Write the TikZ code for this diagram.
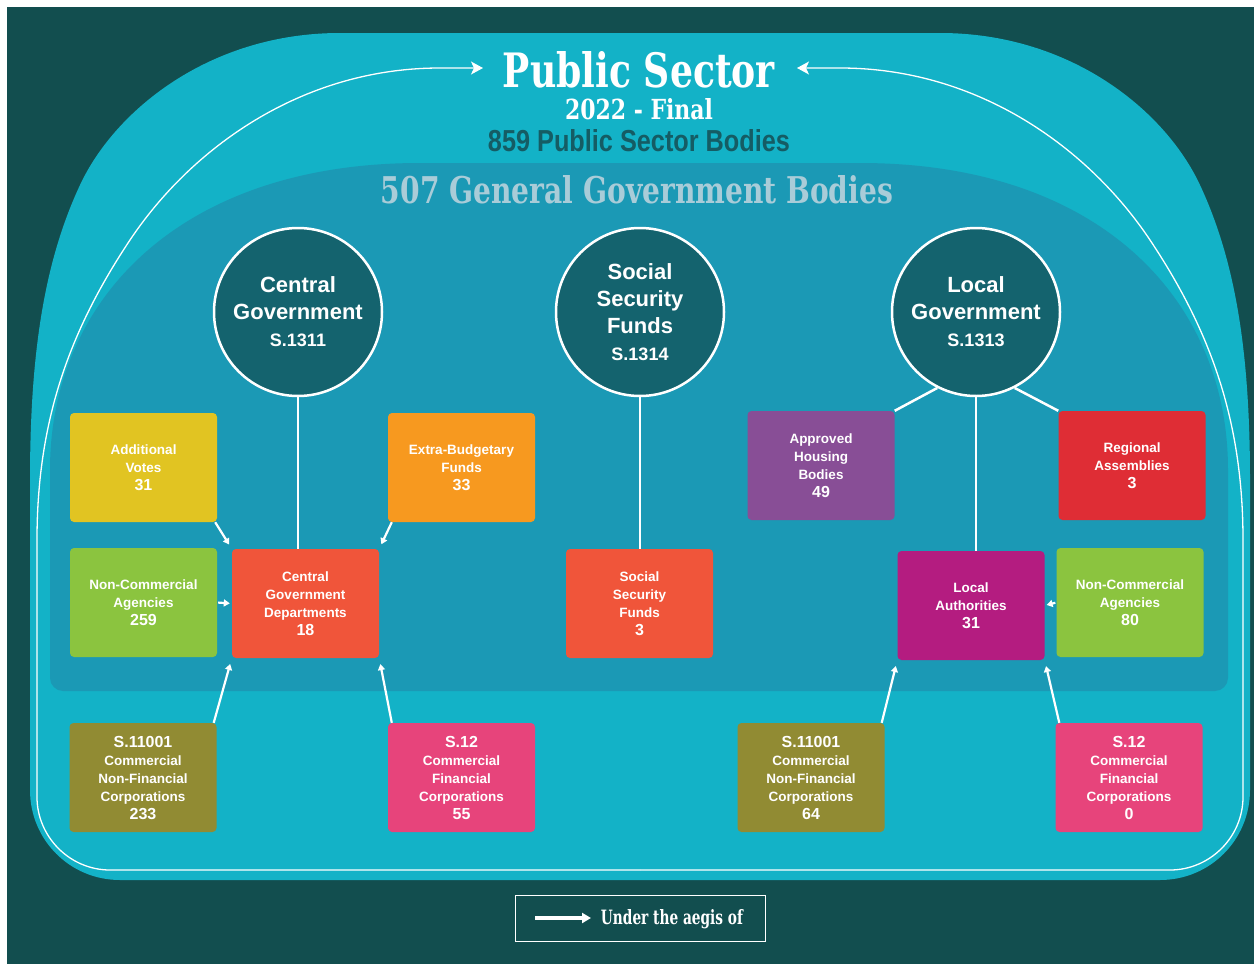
\documentclass[tikz,border=0pt]{standalone}
\usepackage{fontspec}
\usepackage{graphicx}
\setmainfont{Liberation Sans}
\newfontfamily\slabfont{DejaVu Serif}
\usetikzlibrary{arrows.meta,calc}
\definecolor{bgdark}{HTML}{124E4F}
\definecolor{outerc}{HTML}{13B2C7}
\definecolor{innerc}{HTML}{1B99B5}
\definecolor{circc}{HTML}{14636E}
\definecolor{txtdark}{HTML}{155C64}
\definecolor{txtlight}{HTML}{A9CCD8}
\definecolor{cyellow}{HTML}{E1C422}
\definecolor{corange}{HTML}{F7991F}
\definecolor{cgreen}{HTML}{8BC43F}
\definecolor{cred}{HTML}{F0553A}
\definecolor{cpurple}{HTML}{884E96}
\definecolor{cregion}{HTML}{DF2D35}
\definecolor{cmagenta}{HTML}{B41C80}
\definecolor{colive}{HTML}{918B33}
\definecolor{cpink}{HTML}{E7447B}
\newcommand{\num}[1]{{\fontsize{16}{18}\selectfont #1}}
\begin{document}
\begin{tikzpicture}[x=1pt,y=-1pt,
  box/.style={rectangle, rounded corners=4pt, minimum width=147pt, minimum height=109pt,
    inner sep=0pt, text=white, align=center, font=\bfseries\fontsize{13.5}{18}\selectfont},
  bubble/.style={circle, minimum size=168pt, inner sep=0pt, fill=circc, draw=white,
    line width=2.5pt, text=white, align=center, font=\bfseries\fontsize{22}{27}\selectfont},
  conn/.style={draw=white, line width=2.5pt},
  arr/.style={draw=white, line width=2.2pt, -{Triangle[length=6pt,width=7pt]}},
  loopline/.style={draw=white!92, line width=1.3pt, -{Stealth[length=12pt,width=13pt,inset=3pt]}},
  titletext/.style={inner sep=0pt, anchor=base}
]
\useasboundingbox (0,0) rectangle (1254,967);
\fill[white] (0,0) rectangle (1254,967);
\fill[bgdark] (7,7) rectangle (1254,964);

% outer dome
\fill[outerc] (30,790) -- (30,480) .. controls (30,350) and (45,260) .. (80,185)
  .. controls (115,110) and (210,33) .. (340,33)
  -- (940,33) .. controls (1070,33) and (1165,110) .. (1200,185)
  .. controls (1235,260) and (1250,350) .. (1250,480)
  -- (1250,790) .. controls (1250,840) and (1210,880) .. (1160,880)
  -- (120,880) .. controls (70,880) and (30,840) .. (30,790) -- cycle;

% inner region
\fill[innerc] (50,678) -- (50,470) .. controls (50,300) and (180,163) .. (420,163)
  -- (860,163) .. controls (1100,163) and (1228,300) .. (1228,470)
  -- (1228,678) .. controls (1228,685) and (1222,691) .. (1215,691)
  -- (63,691) .. controls (56,691) and (50,685) .. (50,678) -- cycle;

% titles
\node[titletext, text=white] (title) at (639,87) {\resizebox{272pt}{36pt}{\slabfont\bfseries Public Sector}};
\node[titletext, text=white] (year) at (639,119) {\resizebox{148pt}{21pt}{\slabfont\bfseries 2022 - Final}};
\node[titletext, text=txtdark] (psb) at (639,151) {\resizebox{302pt}{22pt}{\bfseries 859 Public Sector Bodies}};
\node[titletext, text=txtlight] (ggb) at (637,203) {\resizebox{512pt}{28pt}{\slabfont\bfseries 507 General Government Bodies}};

% loop line with arrows
\coordinate (loopstart) at (640,870);
\coordinate (tipL) at (483,68);
\coordinate (tipR) at (797,68);
\draw[loopline] (loopstart) -- (110,870) .. controls (70,870) and (37,837) .. (37,797)
  -- (37,540) .. controls (37,420) and (70,330) .. (130,240)
  .. controls (190,150) and (300,68) .. (440,68) -- (tipL);
\draw[loopline] (loopstart) -- (1170,870) .. controls (1210,870) and (1243,837) .. (1243,797)
  -- (1243,540) .. controls (1243,420) and (1210,330) .. (1150,240)
  .. controls (1090,150) and (980,68) .. (840,68) -- (tipR);

% circles
\node[bubble] (cg) at (298,312) {Central\\Government\\{\fontsize{18}{27}\selectfont S.1311}};
\node[bubble] (ssc) at (640,312) {Social\\Security\\Funds\\{\fontsize{18}{27}\selectfont S.1314}};
\node[bubble] (lg) at (976,312) {Local\\Government\\{\fontsize{18}{27}\selectfont S.1313}};

% boxes
\node[box, fill=cyellow] (av) at (143.5,467.5) {Additional\\Votes\\\num{31}};
\node[box, fill=corange] (ebf) at (461.5,467.5) {Extra-Budgetary\\Funds\\\num{33}};
\node[box, fill=cgreen] (nca1) at (143.5,602.5) {Non-Commercial\\Agencies\\\num{259}};
\node[box, fill=cred] (cgd) at (305.5,603.5) {Central\\Government\\Departments\\\num{18}};
\node[box, fill=cred] (ssf) at (639.5,603.5) {Social\\Security\\Funds\\\num{3}};
\node[box, fill=cpurple] (ahb) at (821,465.5) {Approved\\Housing\\Bodies\\\num{49}};
\node[box, fill=cregion] (ra) at (1132,465.5) {Regional\\Assemblies\\\num{3}};
\node[box, fill=cmagenta] (la) at (971,605.5) {Local\\Authorities\\\num{31}};
\node[box, fill=cgreen] (nca2) at (1130,602.5) {Non-Commercial\\Agencies\\\num{80}};
\node[box, fill=colive] (cnf1) at (143,777.5) {\num{S.11001}\\Commercial\\Non-Financial\\Corporations\\\num{233}};
\node[box, fill=cpink] (cfc1) at (461.5,777.5) {\num{S.12}\\Commercial\\Financial\\Corporations\\\num{55}};
\node[box, fill=colive] (cnf2) at (811,777.5) {\num{S.11001}\\Commercial\\Non-Financial\\Corporations\\\num{64}};
\node[box, fill=cpink] (cfc2) at (1129,777.5) {\num{S.12}\\Commercial\\Financial\\Corporations\\\num{0}};

% plain connectors
\draw[conn] (cg.south) -- (cg.south |- cgd.north);
\draw[conn] (ssc.south) -- (ssc.south |- ssf.north);
\draw[conn] (lg.south) -- (lg.south |- la.north);
\draw[conn] (lg.243) -- (ahb.north east);
\draw[conn] (lg.297) -- (ra.north west);

% arrows
\draw[arr, shorten >=5pt] ($(av.south east)+(-2,0)$) -- (cgd.north west);
\draw[arr, shorten >=5pt] ($(ebf.south west)+(4,0)$) -- (cgd.north east);
\draw[arr, shorten <=1pt, shorten >=2pt] (nca1.east) -- (cgd.west);
\draw[arr, shorten >=6pt] ($(cnf1.north east)+(-3,0)$) -- (cgd.south west);
\draw[arr, shorten >=6pt] ($(cfc1.north west)+(4,0)$) -- (cgd.south east);
\draw[arr, shorten >=6pt] ($(cnf2.north east)+(-3,0)$) -- (la.south west);
\draw[arr, shorten >=6pt] ($(cfc2.north west)+(4,0)$) -- (la.south east);
\draw[arr, shorten <=1pt, shorten >=2pt] (nca2.west) -- (la.east);

% legend
\node[draw=white!80, line width=1pt, minimum width=250pt, minimum height=46pt, inner sep=0pt] (legend) at (640,918) {};
\coordinate (legA) at (535,918);
\coordinate (legB) at (591,918);
\draw[draw=white, line width=4pt, -{Triangle[length=9pt,width=10pt]}] (legA) -- (legB);
\node[titletext, text=white] (legtext) at (672,924) {\resizebox{142pt}{15pt}{\slabfont\bfseries Under the aegis of}};
\end{tikzpicture}
\end{document}
